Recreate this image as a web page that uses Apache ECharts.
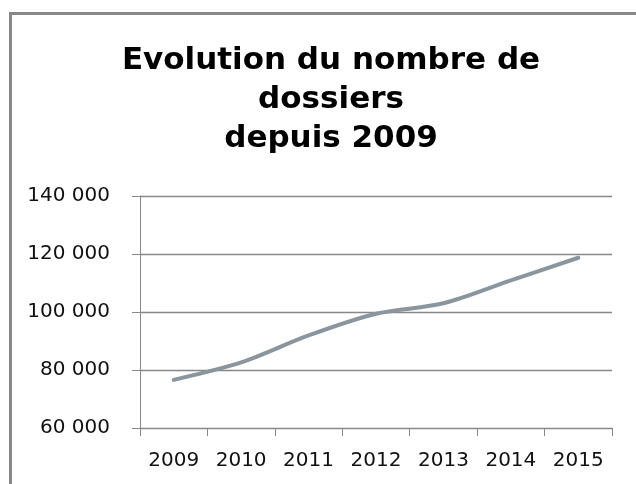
<!DOCTYPE html>
<html><head><meta charset="utf-8">
<script src="https://cdn.jsdelivr.net/npm/echarts@6/dist/echarts.min.js"></script>
<style>html,body{margin:0;padding:0;background:#fff}#c{width:636px;height:484px}</style>
</head><body><div id="c"></div>
<script>
var categories = ['2009','2010','2011','2012','2013','2014','2015'];
var dossiers = [76600, 82600, 91900, 99400, 103000, 110900, 118700];
var yTicks = [60000, 80000, 100000, 120000, 140000];
var titleLines = ['Evolution du nombre de', 'dossiers', 'depuis 2009'];

var chart = echarts.init(document.getElementById('c'), null, {renderer:'canvas'});
function fmt(v){ var s = String(v); return s.slice(0, s.length-3) + ' ' + s.slice(s.length-3); }
chart.setOption({
  animation:false,
  backgroundColor:'#fff',
  title:{
    text: titleLines.join('\n'),
    left: 326, top: 36, textAlign:'center',
    textStyle:{fontFamily:'DejaVu Sans', fontWeight:'bold', fontSize:31, lineHeight:39, color:'#000'}
  },
  graphic:[{type:'rect', shape:{x:10.5, y:13.5, width:700, height:700}, style:{fill:'none', stroke:'#888', lineWidth:3}, silent:true}],
  grid:{left:140, right:24, top:196, bottom:56},
  xAxis:{
    type:'category', data:categories, boundaryGap:true,
    axisLine:{lineStyle:{color:'#888', width:1}},
    axisTick:{show:true, length:8, interval:0, lineStyle:{color:'#888'}},
    axisLabel:{margin:23, interval:0, fontFamily:'DejaVu Sans', fontSize:20, color:'#111'}
  },
  yAxis:{
    type:'value', min:yTicks[0], max:yTicks[yTicks.length-1], interval:20000,
    axisLine:{show:true, lineStyle:{color:'#888', width:1}},
    axisTick:{show:true, length:8, lineStyle:{color:'#888'}},
    splitLine:{lineStyle:{color:'#888', width:1.3}},
    axisLabel:{margin:30, fontFamily:'DejaVu Sans', fontSize:20, color:'#111', formatter:fmt}
  },
  series:[{
    type:'line', data:dossiers, smooth:0.3, showSymbol:false, symbol:'none',
    lineStyle:{color:'#8a959e', width:4, cap:'round'}
  }]
});
</script></body></html>
